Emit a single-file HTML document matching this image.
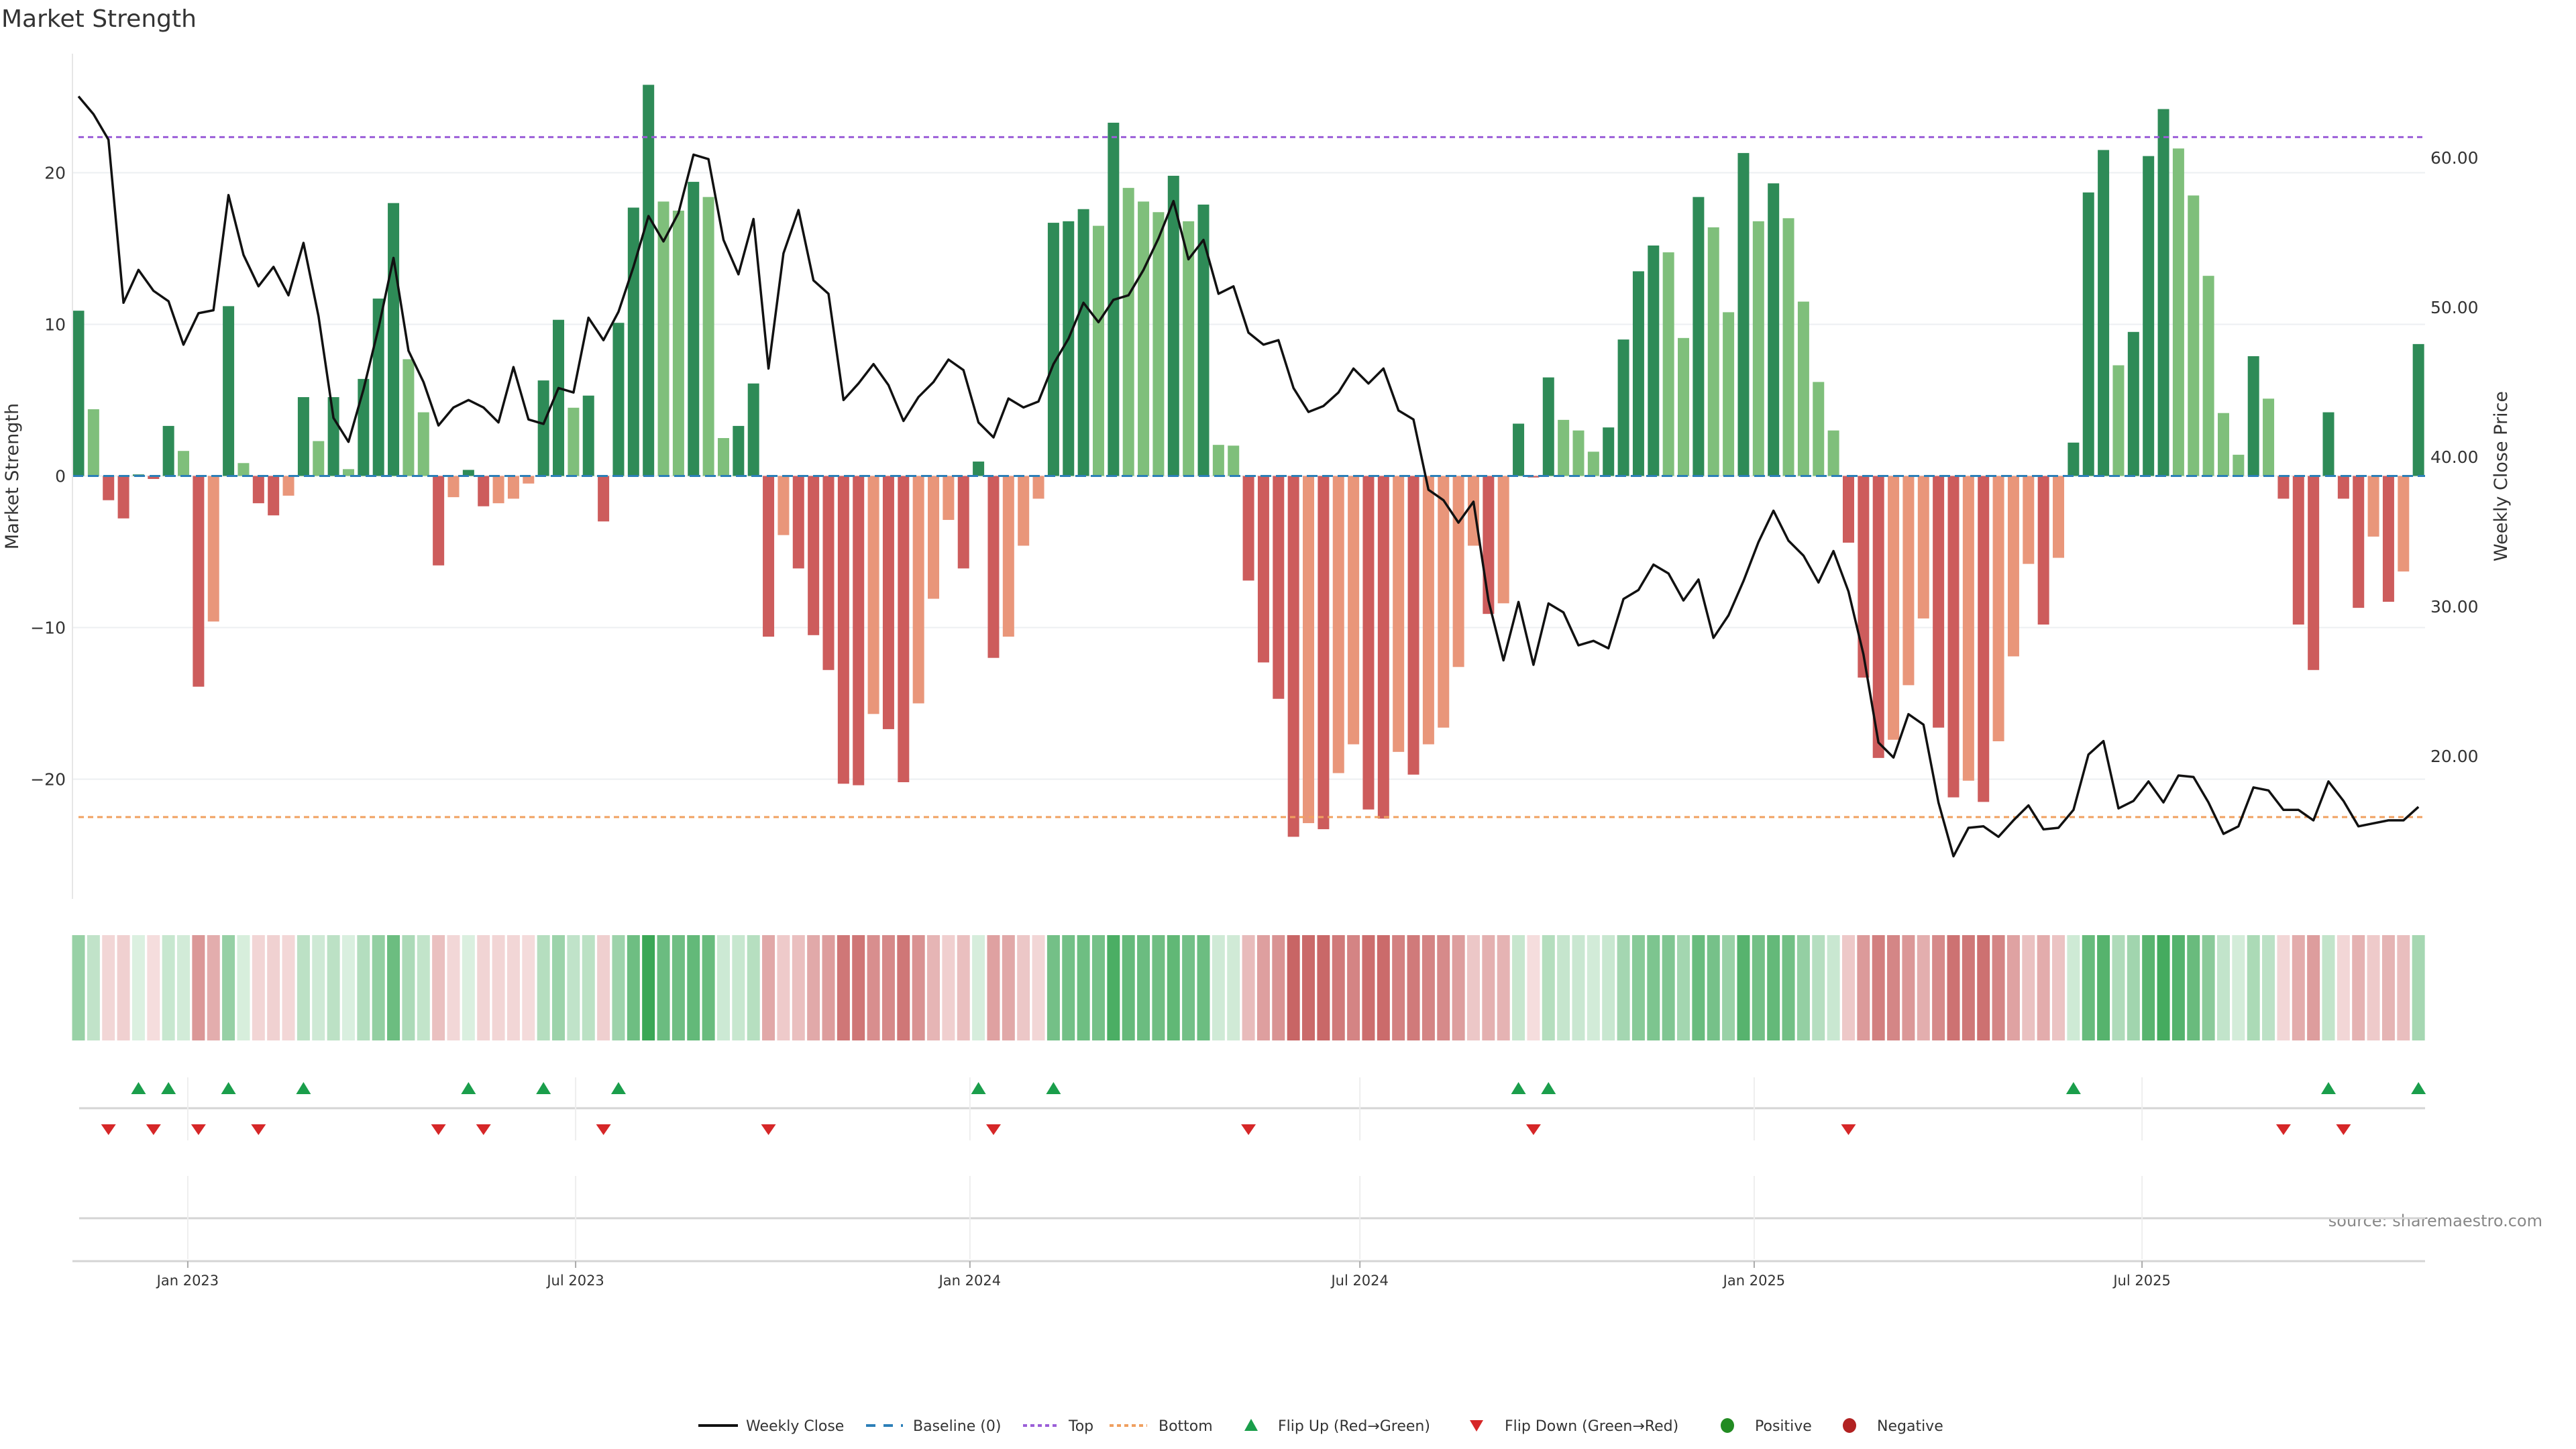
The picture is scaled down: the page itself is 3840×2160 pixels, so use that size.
<!DOCTYPE html>
<html><head><meta charset="utf-8"><title>Market Strength</title>
<style>
html,body{margin:0;padding:0;background:#fff;}
svg{display:block;font-family:"DejaVu Sans","Liberation Sans",sans-serif;}
</style></head>
<body>
<svg id="chart" width="3840" height="2160" viewBox="0 0 3840 2160" xmlns="http://www.w3.org/2000/svg">
<text x="2" y="40" font-size="36" fill="#333">Market Strength</text>
<text transform="translate(27,710) rotate(-90)" text-anchor="middle" font-size="27" fill="#333">Market Strength</text>
<text transform="translate(3737,710) rotate(-90)" text-anchor="middle" font-size="27" fill="#333">Weekly Close Price</text>
<text x="3790" y="1828" text-anchor="end" font-size="24" fill="#888">source: sharemaestro.com</text>
<g id="grid"></g>
<g id="bars"></g>
<g id="lines"></g>
<g id="price"></g>
<g id="axes"></g>
<g id="strip"></g>
<g id="flips"></g>
<g id="legend"></g>
</svg>
<script>
const strength = [10.9,4.4,-1.6,-2.8,0.1,-0.2,3.3,1.65,-13.9,-9.6,
11.2,0.85,-1.8,-2.6,-1.3,5.2,2.3,5.2,0.45,6.4,
11.7,18.0,7.7,4.2,-5.9,-1.4,0.4,-2.0,-1.8,-1.5,
-0.5,6.3,10.3,4.5,5.3,-3.0,10.1,17.7,25.8,18.1,
17.5,19.4,18.4,2.5,3.3,6.1,-10.6,-3.9,-6.1,-10.5,
-12.8,-20.3,-20.4,-15.7,-16.7,-20.2,-15.0,-8.1,-2.9,-6.1,
0.95,-12.0,-10.6,-4.6,-1.5,16.7,16.8,17.6,16.5,23.3,
19.0,18.1,17.4,19.8,16.8,17.9,2.05,2.0,-6.9,-12.3,
-14.7,-23.8,-22.9,-23.3,-19.6,-17.7,-22.0,-22.6,-18.2,-19.7,
-17.7,-16.6,-12.6,-4.6,-9.1,-8.4,3.45,-0.1,6.5,3.7,
3.0,1.6,3.2,9.0,13.5,15.2,14.75,9.1,18.4,16.4,
10.8,21.3,16.8,19.3,17.0,11.5,6.2,3.0,-4.4,-13.3,
-18.6,-17.4,-13.8,-9.4,-16.6,-21.2,-20.1,-21.5,-17.5,-11.9,
-5.8,-9.8,-5.4,2.2,18.7,21.5,7.3,9.5,21.1,24.2,
21.6,18.5,13.2,4.15,1.4,7.9,5.1,-1.5,-9.8,-12.8,
4.2,-1.5,-8.7,-4.0,-8.3,-6.3,8.7];
const closes = [64.1,62.9,61.2,50.3,52.5,51.1,50.4,47.5,49.6,49.8,
57.5,53.5,51.4,52.7,50.8,54.3,49.4,42.6,41.0,44.5,
48.6,53.3,47.1,45.0,42.1,43.3,43.8,43.3,42.3,46.0,
42.5,42.2,44.6,44.3,49.3,47.8,49.7,52.7,56.1,54.4,
56.3,60.2,59.9,54.5,52.2,55.9,45.9,53.6,56.5,51.8,
50.9,43.8,44.9,46.2,44.8,42.4,44.0,45.0,46.5,45.8,
42.3,41.3,43.9,43.3,43.7,46.2,47.9,50.3,49.0,50.5,
50.8,52.5,54.6,57.1,53.2,54.5,50.9,51.4,48.3,47.5,
47.8,44.6,43.0,43.4,44.3,45.9,44.9,45.9,43.1,42.5,
37.8,37.1,35.6,37.0,30.4,26.4,30.3,26.1,30.2,29.6,
27.4,27.7,27.2,30.5,31.1,32.8,32.2,30.4,31.8,27.9,
29.4,31.7,34.3,36.4,34.4,33.4,31.6,33.7,31.0,26.8,
20.9,19.9,22.8,22.1,16.9,13.3,15.2,15.3,14.6,15.7,
16.7,15.1,15.2,16.4,20.1,21.0,16.5,17.0,18.3,16.9,
18.7,18.6,16.9,14.8,15.3,17.9,17.7,16.4,16.4,15.7,
18.3,17.0,15.3,15.5,15.7,15.7,16.6];
const startDate = '2022-11-11';
const tickDates = ['2023-01-01','2023-07-01','2024-01-01','2024-07-01','2025-01-01','2025-07-01'];
const tickLabels = ['Jan 2023','Jul 2023','Jan 2024','Jul 2024','Jan 2025','Jul 2025'];
const leftTicks = [-20,-10,0,10,20];
const rightTicks = [20,30,40,50,60];
const rightTickLabels = ['20.00','30.00','40.00','50.00','60.00'];
const topLevel = [22.35];
const bottomLevel = [-22.5];

const NS='http://www.w3.org/2000/svg';
const X0=117, PITCH=22.36, LEFT=108, RIGHT=3615;
function xIdx(i){return X0+i*PITCH;}
function xDate(s){const d=(Date.parse(s)-Date.parse(startDate))/86400000;return X0+d/7*PITCH;}
function yL(v){return 709.5-v*22.6;}
function yR(p){return 235+(60-p)*22.3;}
function mk(tag,attrs,parent){const e=document.createElementNS(NS,tag);for(const k in attrs)e.setAttribute(k,attrs[k]);parent.appendChild(e);return e;}
function lerp(a,b,t){return 'rgb('+a.map((v,i)=>Math.round(v+(b[i]-v)*t)).join(',')+')';}

const grid=document.getElementById('grid');
leftTicks.forEach(v=>{
  const l=mk('line',{x1:LEFT,x2:RIGHT,y1:yL(v),y2:yL(v),stroke:'#eceff2','stroke-width':2},grid);
  
  
});

const bars=document.getElementById('bars');
strength.forEach((v,i)=>{
  const prev=i>0?strength[i-1]:0;
  let c;
  if(v>=0) c=(v>prev)?'#2e8b57':'#7fbf7b'; else c=(v<prev)?'#cd5c5c':'#e9967a';
  const y=Math.min(yL(v),yL(0)), h=Math.abs(yL(v)-yL(0));
  const r=mk('rect',{x:xIdx(i)-8.5,y:y,width:17,height:h,fill:c},bars);
  
  
});

const lines=document.getElementById('lines');
const base=mk('line',{x1:LEFT,x2:RIGHT,y1:yL(0),y2:yL(0),stroke:'#2c7fb8','stroke-width':3,'stroke-dasharray':'16 7'},lines);


const topL=mk('line',{x1:X0,x2:RIGHT,y1:yL(topLevel[0]),y2:yL(topLevel[0]),stroke:'#9b5fd8','stroke-width':3,'stroke-dasharray':'8 6'},lines);


const botL=mk('line',{x1:X0,x2:RIGHT,y1:yL(bottomLevel[0]),y2:yL(bottomLevel[0]),stroke:'#f0a060','stroke-width':3,'stroke-dasharray':'8 6'},lines);



const price=document.getElementById('price');
const pl=mk('polyline',{points:closes.map((p,i)=>xIdx(i).toFixed(1)+','+yR(p).toFixed(1)).join(' '),fill:'none',stroke:'#111','stroke-width':3.5,'stroke-linejoin':'round'},price);



const axes=document.getElementById('axes');
const al=mk('line',{x1:LEFT,x2:LEFT,y1:80,y2:1340,stroke:'#e6e6e6','stroke-width':2},axes);


leftTicks.forEach(v=>{
  const t=mk('text',{x:98,y:yL(v)+9,'text-anchor':'end','font-size':25,fill:'#333'},axes);
  t.textContent=String(v).replace('-','\u2212');
  
  
});
rightTicks.forEach((p,i)=>{
  const t=mk('text',{x:3623,y:yR(p)+9,'font-size':25,fill:'#333'},axes);
  t.textContent=rightTickLabels[i];
  
  
});
// marker panel gridlines and separators
[1652,1816].forEach(y=>{
  const s=mk('line',{x1:118,x2:RIGHT,y1:y,y2:y,stroke:'#d4d4d4','stroke-width':3},axes);
  
  
});
const xa=mk('line',{x1:LEFT,x2:RIGHT,y1:1880,y2:1880,stroke:'#d4d4d4','stroke-width':3},axes);


tickDates.forEach((d,i)=>{
  const x=xDate(d);
  [[1606,1700],[1753,1877]].forEach(r=>{
    const g=mk('line',{x1:x,x2:x,y1:r[0],y2:r[1],stroke:'#eeeeee','stroke-width':2},axes);
    
    
  });
  const tk=mk('line',{x1:x,x2:x,y1:1880,y2:1890,stroke:'#aaa','stroke-width':2},axes);
  
  
  const t=mk('text',{x:x,y:1916,'text-anchor':'middle','font-size':21,fill:'#333'},axes);
  t.textContent=tickLabels[i];
  
  
});

const strip=document.getElementById('strip');
strength.forEach((v,i)=>{
  let c;
  if(v>=0) c=lerp([220,240,225],[58,166,85],Math.min(v/26,1));
  else c=lerp([245,222,222],[200,100,100],Math.min(-v/24,1));
  const r=mk('rect',{x:xIdx(i)-9.5,y:1394,width:19,height:157,fill:c},strip);
  
  
});

const flips=document.getElementById('flips');
for(let i=1;i<strength.length;i++){
  const a=strength[i-1], b=strength[i], x=xIdx(i);
  if(a<0 && b>=0){
    const t=mk('polygon',{points:(x-11)+',1631 '+(x+11)+',1631 '+x+',1613',fill:'#1a9e4b'},flips);
    
    
  } else if(a>=0 && b<0){
    const t=mk('polygon',{points:(x-11)+',1676 '+(x+11)+',1676 '+x+',1692',fill:'#d62728'},flips);
    
    
  }
}

const lg=document.getElementById('legend');
const LY=2125;
function ltext(x,s){const t=mk('text',{x:x,y:LY+8,'font-size':22,fill:'#333'},lg);t.textContent=s;}
let e;
e=mk('line',{x1:1041,x2:1100,y1:LY,y2:LY,stroke:'#111','stroke-width':4},lg);
ltext(1112,'Weekly Close');
e=mk('line',{x1:1291,x2:1346,y1:LY,y2:LY,stroke:'#2c7fb8','stroke-width':4,'stroke-dasharray':'14 12'},lg);
ltext(1361,'Baseline (0)');
e=mk('line',{x1:1525,x2:1580,y1:LY,y2:LY,stroke:'#9b5fd8','stroke-width':4,'stroke-dasharray':'6 5'},lg);
ltext(1593,'Top');
e=mk('line',{x1:1654,x2:1710,y1:LY,y2:LY,stroke:'#f0a060','stroke-width':4,'stroke-dasharray':'6 5'},lg);
ltext(1727,'Bottom');
e=mk('polygon',{points:'1855,2133 1875,2133 1865,2115',fill:'#1a9e4b'},lg);
ltext(1905,'Flip Up (Red\u2192Green)');
e=mk('polygon',{points:'2191,2117 2211,2117 2201,2134',fill:'#d62728'},lg);
ltext(2243,'Flip Down (Green\u2192Red)');
e=mk('ellipse',{cx:2575,cy:LY,rx:10,ry:11,fill:'#228b22'},lg);
ltext(2616,'Positive');
e=mk('ellipse',{cx:2757,cy:LY,rx:10,ry:11,fill:'#b22222'},lg);
ltext(2798,'Negative');
</script>
</body></html>
